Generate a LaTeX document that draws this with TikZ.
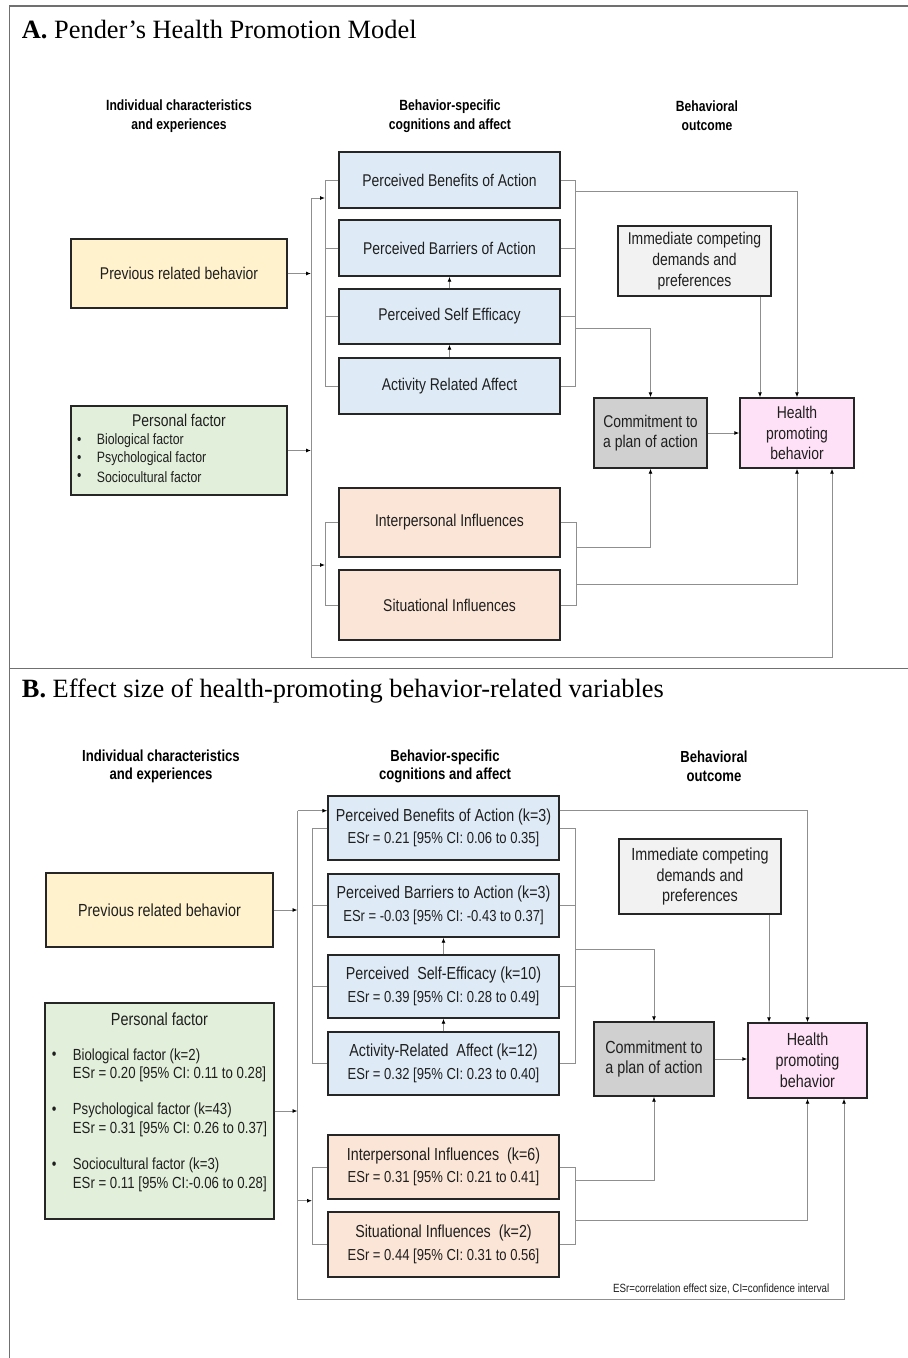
\documentclass[tikz,border=0pt]{standalone}
\usepackage{fontspec}
\setmainfont{Liberation Serif}
\newfontfamily\nsans[FakeStretch=0.82]{Liberation Sans}
\usetikzlibrary{arrows.meta}

\definecolor{boxline}{HTML}{262626}
\definecolor{wire}{HTML}{8F8F8F}
\definecolor{frameline}{HTML}{707070}
\definecolor{prevfill}{HTML}{FFF2CC}
\definecolor{persfill}{HTML}{E2EFDA}
\definecolor{cogfill}{HTML}{DEEBF7}
\definecolor{inflfill}{HTML}{FBE5D6}
\definecolor{demfill}{HTML}{F2F2F2}
\definecolor{comfill}{HTML}{D0D0D0}
\definecolor{hpbfill}{HTML}{FFE1F7}

\tikzset{
  box/.style={draw=boxline, line width=1.4pt, inner sep=0pt, align=center,
    text=black!88, font=\nsans\fontsize{17}{20.7}\selectfont},
  boxB/.style={box, font=\nsans\fontsize{17.5}{20.8}\selectfont},
  cogB/.style={box, fill=cogfill, minimum width=231pt, minimum height=63pt,
    font=\nsans\fontsize{17.4}{22.5}\selectfont},
  inflB/.style={cogB, fill=inflfill, minimum height=64pt},
  wire/.style={draw=wire, line width=0.9pt},
  arr/.style={wire, -{Latex[length=5pt,width=4pt,color=black]}},
  headA/.style={font=\nsans\bfseries\fontsize{14.8}{19}\selectfont, align=center, inner sep=0pt},
  headB/.style={font=\nsans\bfseries\fontsize{16}{18.5}\selectfont, align=center, inner sep=0pt},
  ptitle/.style={font=\fontsize{26.4}{30}\selectfont, anchor=base west, inner sep=0pt},
  plain/.style={inner sep=0pt, text=black!88},
}
\newcommand{\esrline}[1]{{\fontsize{15.9}{22.5}\selectfont #1}}

\begin{document}
\begin{tikzpicture}[x=1pt, y=-1pt]
\useasboundingbox (0,0) rectangle (908,1358);

% ---------- frame ----------
\draw[frameline, line width=1.3pt] (908,6) -- (9.3,6) -- (9.3,1358);
\draw[frameline, line width=1.3pt] (9.3,668.7) -- (908,668.7);

% ======================= Panel A =======================
\node[ptitle] (titleA) at (21.7,38) {\textbf{A.} Pender’s Health Promotion Model};

\node[headA] (hA1) at (179,116) {Individual characteristics\\and experiences};
\node[headA] (hA2) at (450,116) {Behavior-specific\\cognitions and affect};
\node[headA] (hA3) at (707,116) {Behavioral\\outcome};

\node[box, fill=prevfill, minimum width=216pt, minimum height=69pt] (prevA) at (179,273.5) {Previous related behavior};
\node[box, fill=persfill, minimum width=216pt, minimum height=89pt] (persA) at (179,450.5) {};
\node[plain, font=\nsans\fontsize{17}{20}\selectfont] (persAt) at (179,420.5) {Personal factor};
\foreach \y/\t [count=\i] in {440.5/Biological factor, 458.5/Psychological factor, 477/Sociocultural factor}{
  \node[plain, font=\nsans\fontsize{15}{17}\selectfont] (bulA\i) at (79.3,\y) {•};
  \node[plain, anchor=west, font=\nsans\fontsize{15}{17}\selectfont] (itemA\i) at (96.7,\y) {\t};
}

\node[box, fill=cogfill, minimum width=221pt, minimum height=56pt] (benA) at (449.5,180) {Perceived Benefits of Action};
\node[box, fill=cogfill, minimum width=221pt, minimum height=56pt] (barA) at (449.5,248) {Perceived Barriers of Action};
\node[box, fill=cogfill, minimum width=221pt, minimum height=55pt] (selfA) at (449.5,316.5) {Perceived Self Efficacy};
\node[box, fill=cogfill, minimum width=221pt, minimum height=56pt] (actA) at (449.5,386) {Activity Related Affect};
\node[box, fill=inflfill, minimum width=221pt, minimum height=69pt] (interA) at (449.5,522.5) {Interpersonal Influences};
\node[box, fill=inflfill, minimum width=221pt, minimum height=70pt] (sitA) at (449.5,605) {Situational Influences};

\node[box, fill=demfill, minimum width=153pt, minimum height=70pt] (demA) at (694.5,261) {Immediate competing\\demands and\\preferences};
\node[box, fill=comfill, minimum width=113pt, minimum height=70pt] (comA) at (650.5,433) {Commitment to\\a plan of action};
\node[box, fill=hpbfill, minimum width=114pt, minimum height=70pt] (hpbA) at (797,433) {Health\\promoting\\behavior};

% connector guide positions
\coordinate (spA) at (311,0);
\coordinate (xA1) at (325,0);
\coordinate (xA2) at (575.5,0);
\coordinate (xA3) at (576.5,0);
\coordinate (dA) at (760,0);
\coordinate (rA) at (832,0);
\coordinate (topA) at (311,198);
\coordinate (botA) at (311,657);
\coordinate (pinA) at (311,565);
\coordinate (tA) at (575.5,191);
\coordinate (cA) at (575.5,328);
\coordinate (ciA) at (576.5,547);
\coordinate (hiA) at (576.5,584);

\draw[arr] (prevA.east) -- (prevA.east -| spA);
\draw[arr] (persA.east) -- (persA.east -| spA);
\draw[arr] (topA) -- (topA -| xA1);
\draw[arr] (topA) -- (botA) -- (botA -| rA) -- (hpbA.south -| rA);
\draw[arr] (pinA) -- (pinA -| xA1);

\draw[wire] (benA.west) -- (benA.west -| xA1) -- (actA.west -| xA1) -- (actA.west);
\draw[wire] (barA.west) -- (barA.west -| xA1);
\draw[wire] (selfA.west) -- (selfA.west -| xA1);
\draw[wire] (interA.west) -- (interA.west -| xA1) -- (sitA.west -| xA1) -- (sitA.west);

\draw[wire] (benA.east) -- (benA.east -| xA2) -- (actA.east -| xA2) -- (actA.east);
\draw[wire] (barA.east) -- (barA.east -| xA2);
\draw[wire] (selfA.east) -- (selfA.east -| xA2);
\draw[wire] (interA.east) -- (interA.east -| xA3) -- (sitA.east -| xA3) -- (sitA.east);

\draw[arr] (actA.north) -- (selfA.south);
\draw[arr] (selfA.north) -- (barA.south);

\draw[arr] (tA) -| (hpbA.north);
\draw[arr] (cA) -| (comA.north);
\draw[arr] (demA.south -| dA) -- (hpbA.north -| dA);
\draw[arr] (comA.east) -- (hpbA.west);
\draw[arr] (ciA) -| (comA.south);
\draw[arr] (hiA) -| (hpbA.south);

% ======================= Panel B =======================
\node[ptitle] (titleB) at (21.7,697) {\textbf{B.} Effect size of health-promoting behavior-related variables};

\node[headB] (hB1) at (161,766.5) {Individual characteristics\\and experiences};
\node[headB] (hB2) at (445,766.5) {Behavior-specific\\cognitions and affect};
\node[headB] (hB3) at (714,766.5) {Behavioral\\outcome};

\node[boxB, fill=prevfill, minimum width=227pt, minimum height=74pt] (prevB) at (159.5,910) {Previous related behavior};
\node[boxB, fill=persfill, minimum width=229pt, minimum height=216pt] (persB) at (159.5,1111) {};
\node[plain, font=\nsans\fontsize{17.6}{20}\selectfont] (persBt) at (159.5,1018.8) {Personal factor};
\foreach \y/\a/\b [count=\i] in {
  1065.2/Biological factor (k=2)/{ESr = 0.20 [95\% CI: 0.11 to 0.28]},
  1119.8/Psychological factor (k=43)/{ESr = 0.31 [95\% CI: 0.26 to 0.37]},
  1174.8/Sociocultural factor (k=3)/{ESr = 0.11 [95\% CI:-0.06 to 0.28]}}{
  \node[plain, font=\nsans\fontsize{16.1}{18.6}\selectfont] (bulB\i) at (54.3,\y-9.3) {•};
  \node[plain, anchor=west, align=left, font=\nsans\fontsize{16.1}{18.6}\selectfont] (itemB\i) at (72.7,\y) {\a\\\b};
}

\node[cogB, minimum height=64pt] (benB) at (443.5,828) {Perceived Benefits of Action (k=3)\\\esrline{ESr = 0.21 [95\% CI: 0.06 to 0.35]}};
\node[cogB] (barB) at (443.5,905.5) {Perceived Barriers to Action (k=3)\\\esrline{ESr = -0.03 [95\% CI: -0.43 to 0.37]}};
\node[cogB] (selfB) at (443.5,986.5) {Perceived\ \ Self-Efficacy (k=10)\\\esrline{ESr = 0.39 [95\% CI: 0.28 to 0.49]}};
\node[cogB] (actB) at (443.5,1063.5) {Activity-Related\ \ Affect (k=12)\\\esrline{ESr = 0.32 [95\% CI: 0.23 to 0.40]}};
\node[inflB] (interB) at (443.5,1167) {Interpersonal Influences\ \ (k=6)\\\esrline{ESr = 0.31 [95\% CI: 0.21 to 0.41]}};
\node[inflB, minimum height=65pt] (sitB) at (443.5,1244.5) {Situational Influences\ \ (k=2)\\\esrline{ESr = 0.44 [95\% CI: 0.31 to 0.56]}};

\node[boxB, fill=demfill, minimum width=162pt, minimum height=75pt] (demB) at (700,876.5) {Immediate competing\\demands and\\preferences};
\node[boxB, fill=comfill, minimum width=120pt, minimum height=74pt] (comB) at (654,1059) {Commitment to\\a plan of action};
\node[boxB, fill=hpbfill, minimum width=119pt, minimum height=75pt] (hpbB) at (807.5,1060.5) {Health\\promoting\\behavior};

\node[plain, anchor=east, font=\nsans\fontsize{11.9}{13}\selectfont] (noteB) at (829.5,1289.3) {ESr=correlation effect size, CI=confidence interval};

\coordinate (spB) at (297.5,0);
\coordinate (xB1) at (312,0);
\coordinate (xB2) at (575.5,0);
\coordinate (dB) at (769,0);
\coordinate (rB) at (844,0);
\coordinate (topB) at (297.5,810.7);
\coordinate (botB) at (297.5,1299.3);
\coordinate (pinB) at (297.5,1200.7);
\coordinate (tB) at (benB.east |- topB);
\coordinate (cB) at (575.5,949);
\coordinate (ciB) at (575.5,1180);
\coordinate (hiB) at (575.5,1220);

\draw[arr] (prevB.east) -- (prevB.east -| spB);
\draw[arr] (persB.east) -- (persB.east -| spB);
\draw[arr] (topB) -- (topB -| benB.west);
\draw[arr] (topB) -- (botB) -- (botB -| rB) -- (hpbB.south -| rB);
\draw[arr] (pinB) -- (pinB -| xB1);

\draw[wire] (benB.west) -- (benB.west -| xB1) -- (actB.west -| xB1) -- (actB.west);
\draw[wire] (barB.west) -- (barB.west -| xB1);
\draw[wire] (selfB.west) -- (selfB.west -| xB1);
\draw[wire] (interB.west) -- (interB.west -| xB1) -- (sitB.west -| xB1) -- (sitB.west);

\draw[wire] (benB.east) -- (benB.east -| xB2) -- (actB.east -| xB2) -- (actB.east);
\draw[wire] (barB.east) -- (barB.east -| xB2);
\draw[wire] (selfB.east) -- (selfB.east -| xB2);
\draw[wire] (interB.east) -- (interB.east -| xB2) -- (sitB.east -| xB2) -- (sitB.east);

\draw[arr] (actB.north) -- (selfB.south);
\draw[arr] (selfB.north) -- (barB.south);

\draw[arr] (tB) -| (hpbB.north);
\draw[arr] (cB) -| (comB.north);
\draw[arr] (demB.south -| dB) -- (hpbB.north -| dB);
\draw[arr] (comB.east) -- (comB.east -| hpbB.west);
\draw[arr] (ciB) -| (comB.south);
\draw[arr] (hiB) -| (hpbB.south);

\end{tikzpicture}
\end{document}
